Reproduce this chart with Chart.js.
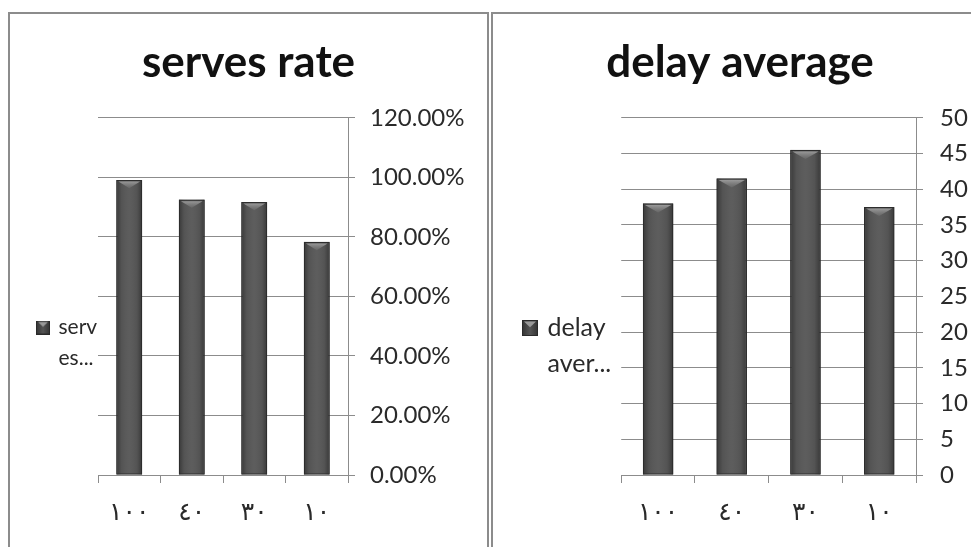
<!DOCTYPE html>
<html>
<head>
<meta charset="utf-8">
<script src="https://cdn.jsdelivr.net/npm/chart.js@4"></script>
<style>
  html, body { margin: 0; padding: 0; background: #fff; overflow: hidden; width: 971px; height: 547px; }
  .frame { position: absolute; top: 12px; height: 560px; border: 2px solid #8c8c8c; box-sizing: border-box; background: #fff; }
  #f1 { left: 8px; width: 481px; }
  #f2 { left: 491px; width: 498px; }
  canvas { position: absolute; }
  #c1 { left: 10px; top: 14px; }
  #c2 { left: 494px; top: 14px; }
</style>
</head>
<body>
<div class="frame" id="f1"></div>
<div class="frame" id="f2"></div>
<canvas id="c1" width="477" height="533"></canvas>
<canvas id="c2" width="490" height="533"></canvas>
<script>
// Categories (Arabic-Indic numerals) and the two measured series
const categories = ['١٠٠', '٤٠', '٣٠', '١٠'];
const servesRate = [99.1, 92.5, 91.7, 78.3];      // percent
const delayAverage = [38.0, 41.5, 45.5, 37.5];

const servesTitle = 'serves rate';
const delayTitle = 'delay average';
const servesLegend = ['serv', 'es...'];
const delayLegend = ['delay', 'aver...'];

const rateAxis = { min: 0, max: 120, step: 20 };
const delayAxis = { min: 0, max: 50, step: 5 };

const FONT = 'Lato, "DejaVu Sans", "Noto Sans", sans-serif';
const GRID = '#8c8c8c';
const TEXT = '#2a2a2a';

// small bevelled swatch used as the legend marker
function makeMarker(size) {
  const c = document.createElement('canvas');
  c.width = size; c.height = size;
  const g = c.getContext('2d');
  const grad = g.createLinearGradient(0, 0, size, 0);
  grad.addColorStop(0, '#333');
  grad.addColorStop(0.5, '#555');
  grad.addColorStop(1, '#333');
  g.fillStyle = grad;
  g.fillRect(0, 0, size, size);
  g.strokeStyle = '#2a2a2a';
  g.strokeRect(0.5, 0.5, size - 1, size - 1);
  g.beginPath();
  g.moveTo(2, 1.5); g.lineTo(size - 2, 1.5); g.lineTo(size / 2, size * 0.45); g.closePath();
  g.fillStyle = '#9a9a9a';
  g.fill();
  return c;
}

// shading for each bar: darker sides and a light chevron cap
const bevelBars = {
  id: 'bevelBars',
  afterDatasetDraw(chart, args) {
    const ctx = chart.ctx;
    ctx.save();
    args.meta.data.forEach(bar => {
      const { x, y, base, width } = bar.getProps(['x', 'y', 'base', 'width'], true);
      const l = x - width / 2, r = x + width / 2;
      const side = ctx.createLinearGradient(l, 0, r, 0);
      side.addColorStop(0, 'rgba(0,0,0,0.35)');
      side.addColorStop(0.2, 'rgba(0,0,0,0.05)');
      side.addColorStop(0.5, 'rgba(255,255,255,0.03)');
      side.addColorStop(0.8, 'rgba(0,0,0,0.05)');
      side.addColorStop(1, 'rgba(0,0,0,0.35)');
      ctx.fillStyle = side;
      ctx.fillRect(l, y, width, base - y);
      ctx.strokeStyle = '#2e2e2e';
      ctx.lineWidth = 1;
      ctx.strokeRect(l + 0.5, y + 0.5, width - 1, base - y - 1);
      const depth = Math.min(9, width * 0.32);
      const cap = ctx.createLinearGradient(0, y, 0, y + depth);
      cap.addColorStop(0, '#a8a8a8');
      cap.addColorStop(1, 'rgba(110,110,110,0.6)');
      ctx.beginPath();
      ctx.moveTo(l + 2, y + 1.5);
      ctx.lineTo(r - 2, y + 1.5);
      ctx.lineTo(x, y + depth);
      ctx.closePath();
      ctx.fillStyle = cap;
      ctx.fill();
    });
    ctx.restore();
  }
};

function buildChart(id, cfg) {
  return new Chart(document.getElementById(id), {
    type: 'bar',
    data: {
      labels: categories,
      datasets: [{
        label: cfg.title,
        data: cfg.values,
        backgroundColor: '#585858',
        borderColor: '#2e2e2e',
        borderWidth: 1,
        barPercentage: 0.41,
        categoryPercentage: 1
      }]
    },
    options: {
      responsive: false,
      animation: false,
      events: [],
      layout: { padding: { left: cfg.padLeft, top: 0, right: 0, bottom: 0 } },
      plugins: {
        tooltip: { enabled: false },
        title: {
          display: true,
          text: cfg.title,
          color: '#111',
          font: { family: FONT, size: 44, weight: 'bold', lineHeight: 1.2 },
          padding: { top: 22, bottom: 29 }
        },
        legend: {
          position: 'left',
          align: 'start',
          maxWidth: cfg.legendWidth,
          title: { display: true, text: '', font: { size: 10, lineHeight: 1.2 }, padding: { top: cfg.legendDrop, bottom: 0 } },
          labels: {
            usePointStyle: true,
            boxWidth: 10,
            boxHeight: 10,
            padding: cfg.legendPad,
            font: { family: FONT, size: cfg.legendFont, lineHeight: 1.45 },
            generateLabels: () => [{
              text: cfg.legend,
              pointStyle: makeMarker(cfg.markerSize),
              fillStyle: '#555',
              strokeStyle: '#333',
              fontColor: TEXT,
              lineWidth: 0,
              hidden: false,
              datasetIndex: 0
            }]
          }
        }
      },
      scales: {
        x: {
          grid: { drawOnChartArea: false, drawTicks: true, tickLength: 8, color: GRID, offset: true },
          border: { color: GRID },
          ticks: { padding: 14, color: TEXT, font: { family: FONT, size: 25 } },
          afterFit(scale) { scale.height = 72; }
        },
        y: {
          position: 'right',
          min: cfg.axis.min,
          max: cfg.axis.max,
          grid: { color: GRID, lineWidth: 1, tickLength: 7 },
          border: { color: GRID },
          ticks: {
            stepSize: cfg.axis.step,
            padding: cfg.tickPad,
            color: TEXT,
            font: { family: FONT, size: 24 },
            callback: cfg.format
          },
          afterFit(scale) { scale.width = cfg.axisWidth; }
        }
      }
    },
    plugins: [bevelBars]
  });
}

buildChart('c1', {
  title: servesTitle, values: servesRate, legend: servesLegend, axis: rateAxis,
  format: v => v.toFixed(2) + '%',
  axisWidth: 139, tickPad: 15, padLeft: 0, legendWidth: 88, legendPad: 28,
  legendDrop: 263, legendFont: 21, markerSize: 14
});

buildChart('c2', {
  title: delayTitle, values: delayAverage, legend: delayLegend, axis: delayAxis,
  format: v => String(v),
  axisWidth: 68, tickPad: 17, padLeft: 2, legendWidth: 126, legendPad: 29,
  legendDrop: 260.5, legendFont: 25, markerSize: 16
});
</script>
</body>
</html>
